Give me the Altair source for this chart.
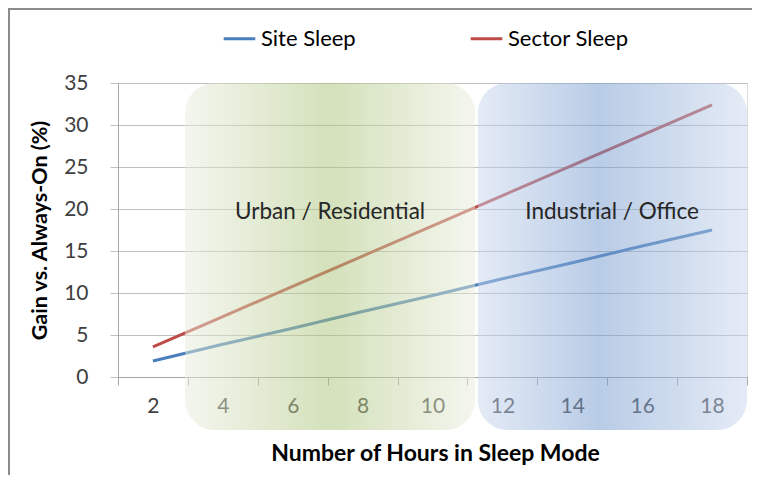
import altair as alt
import pandas as pd

# ---- data ----
hours = [2, 4, 6, 8, 10, 12, 14, 16, 18]
site_sleep = [1.9, 3.9, 5.8, 7.8, 9.7, 11.7, 13.6, 15.6, 17.5]
sector_sleep = [3.6, 7.2, 10.8, 14.4, 18.0, 21.6, 25.2, 28.8, 32.4]
series_names = ["Site Sleep", "Sector Sleep"]
series_colors = ["#4a7ebb", "#be4b48"]

y_ticks = [0, 5, 10, 15, 20, 25, 30, 35]
x_ticks = list(range(1, 20))  # odd values carry tick marks, even values carry labels

region_names = ["Urban / Residential", "Industrial / Office"]
region_x_start = [2.92, 11.30]
region_x_end = [11.22, 19.0]
region_y_start = [-6.3, -6.3]
region_y_end = [35, 35]
label_x = [7.07, 15.14]
label_y = [19.6, 19.6]

FONT = "Lato"

lines_df = pd.DataFrame(
    {
        "hours": hours * 2,
        "gain": site_sleep + sector_sleep,
        "series": [series_names[0]] * len(hours) + [series_names[1]] * len(hours),
    }
)
regions_df = pd.DataFrame(
    {
        "region": region_names,
        "x0": region_x_start,
        "x1": region_x_end,
        "y0": region_y_start,
        "y1": region_y_end,
        "lx": label_x,
        "ly": label_y,
    }
)

x_scale = alt.Scale(domain=[1, 19], nice=False, zero=False)
y_scale = alt.Scale(domain=[0, 35], nice=False)

x_axis = alt.Axis(
    values=x_ticks,
    labelExpr="datum.value % 2 == 0 ? '' + datum.value : ''",
    tickOpacity={"condition": {"test": "datum.value % 2 == 0", "value": 0}, "value": 1},
    labelOverlap=False,
    labelFlush=False,
    grid=False,
    tickSize=8,
    tickColor="#a6a6a6",
    domainColor="#a6a6a6",
    labelFont=FONT,
    labelFontSize=21,
    labelColor="#404040",
    labelPadding=10,
    title="Number of Hours in Sleep Mode",
    titleFont=FONT,
    titleFontSize=23,
    titleFontWeight="bold",
    titleColor="#000000",
    titleX=317,
    titleY=76,
    titleBaseline="middle",
)
y_axis = alt.Axis(
    values=y_ticks,
    grid=True,
    gridColor="#bfbfbf",
    tickSize=8,
    tickColor="#bfbfbf",
    domainColor="#a6a6a6",
    labelFont=FONT,
    labelFontSize=21,
    labelColor="#404040",
    labelPadding=22,
    title="Gain vs. Always-On (%)",
    titleFont=FONT,
    titleFontSize=21.5,
    titleFontWeight="bold",
    titleColor="#000000",
    titleX=-78,
    titleY=147,
    titleBaseline="middle",
)

lines = (
    alt.Chart(lines_df)
    .mark_line(strokeWidth=3)
    .encode(
        x=alt.X("hours:Q", scale=x_scale, axis=x_axis),
        y=alt.Y("gain:Q", scale=y_scale, axis=y_axis),
        color=alt.Color(
            "series:N",
            scale=alt.Scale(domain=series_names, range=series_colors),
            legend=alt.Legend(
                title=None,
                orient="none",
                legendX=104,
                legendY=-62,
                direction="horizontal",
                symbolType="stroke",
                symbolSize=1000,
                symbolStrokeWidth=3,
                labelFont=FONT,
                labelFontSize=22,
                labelColor="#000000",
                labelOffset=4,
                columnPadding=108,
                padding=0,
            ),
        ),
    )
)

green_grad = alt.Gradient(
    gradient="linear",
    x1=0, x2=1, y1=0, y2=0,
    stops=[
        alt.GradientStop(offset=0, color="#e9eddd"),
        alt.GradientStop(offset=0.5, color="#a9c377"),
        alt.GradientStop(offset=1, color="#e9eddd"),
    ],
)
blue_grad = alt.Gradient(
    gradient="linear",
    x1=0, x2=1, y1=0, y2=0,
    stops=[
        alt.GradientStop(offset=0, color="#c9d7ed"),
        alt.GradientStop(offset=0.45, color="#7399cd"),
        alt.GradientStop(offset=1, color="#c9d7ed"),
    ],
)

green = (
    alt.Chart(regions_df)
    .transform_filter(alt.datum.region == region_names[0])
    .mark_rect(fill=green_grad, opacity=0.5, cornerRadius=30)
    .encode(
        x=alt.X("x0:Q", scale=x_scale, axis=x_axis),
        x2="x1:Q",
        y=alt.Y("y0:Q", scale=y_scale, axis=y_axis),
        y2="y1:Q",
    )
)
blue = (
    alt.Chart(regions_df)
    .transform_filter(alt.datum.region == region_names[1])
    .mark_rect(fill=blue_grad, opacity=0.5, cornerRadius=30)
    .encode(
        x=alt.X("x0:Q", scale=x_scale, axis=x_axis),
        x2="x1:Q",
        y=alt.Y("y0:Q", scale=y_scale, axis=y_axis),
        y2="y1:Q",
    )
)

labels = (
    alt.Chart(regions_df)
    .mark_text(font=FONT, fontSize=22.5, color="#262626", baseline="middle", align="center")
    .encode(
        x=alt.X("lx:Q", scale=x_scale, axis=x_axis),
        y=alt.Y("ly:Q", scale=y_scale, axis=y_axis),
        text="region:N",
    )
)

# chart-area border (only its top and left edges fall inside the picture)
frame_df = pd.DataFrame({"k": [0]})
frame = alt.Chart(frame_df).mark_rect(
    fill="transparent", stroke="#8c8c8c", strokeWidth=2
).encode(
    x=alt.value(-109), x2=alt.value(800), y=alt.value(-74), y2=alt.value(600)
)

chart = (
    alt.layer(lines, green, blue, labels, frame)
    .properties(
        width=629,
        height=294,
        autosize=alt.AutoSizeParams(type="none"),
        padding={"left": 110, "top": 75, "right": 5, "bottom": 98},
    )
    .configure_view(strokeWidth=0)
    .configure(background="#ffffff")
)

chart.save("out.html", embed_options={"renderer": "svg", "actions": False})
